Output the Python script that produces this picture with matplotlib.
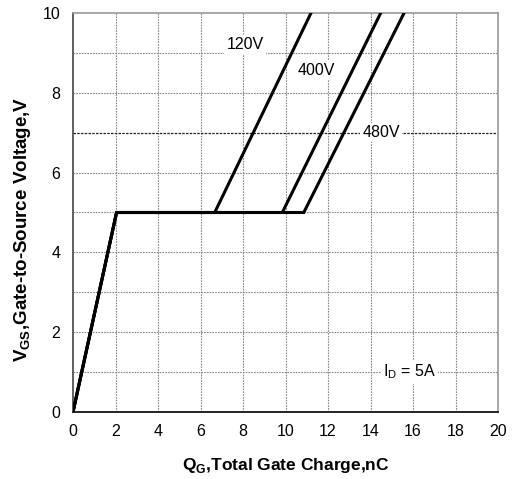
import numpy as np
import matplotlib.pyplot as plt

plt.rcParams['font.family'] = ['Liberation Sans', 'DejaVu Sans']

# gate charge curves (nC, V)
qg_120 = [0.0, 2.05, 6.67, 11.2]
vgs_120 = [0.0, 5.0, 5.0, 10.0]
qg_400 = [0.0, 2.05, 9.85, 14.48]
vgs_400 = [0.0, 5.0, 5.0, 10.0]
qg_480 = [0.0, 2.05, 10.86, 15.58]
vgs_480 = [0.0, 5.0, 5.0, 10.0]

curve_labels = ["120V", "400V", "480V"]
label_x = [8.1, 11.45, 14.5]
label_y = [9.2, 8.57, 7.0]

fig = plt.figure(figsize=(5.14, 4.79), dpi=100)
ax = fig.add_axes([73 / 514, 1 - 412 / 479, 425 / 514, 399 / 479])

# grid
for xv in np.arange(2, 20, 2):
    ax.axvline(xv, color="#888888", lw=0.8, ls=(0, (1.5, 1)), zorder=1)
for yv in np.arange(1, 10, 1):
    if yv == 7:
        ax.axhline(yv, color="#222222", lw=0.9, ls=(0, (2, 1)), zorder=1)
    else:
        ax.axhline(yv, color="#888888", lw=0.8, ls=(0, (1.5, 1)), zorder=1)

for q, v in [(qg_120, vgs_120), (qg_400, vgs_400), (qg_480, vgs_480)]:
    ax.plot(q, v, color="black", lw=2.2, solid_joinstyle="miter", zorder=3)

for lab, lx, ly in zip(curve_labels, label_x, label_y):
    ax.text(lx, ly, lab, fontsize=11.5, ha="center", va="center", zorder=4,
            bbox=dict(facecolor="white", edgecolor="none", pad=1.5))

ax.text(15.85, 1.0, r"I$_\mathregular{D}$ = 5A", fontsize=11.5, ha="center", va="center",
        zorder=4, bbox=dict(facecolor="white", edgecolor="none", pad=1.5))

ax.set_xlim(0, 20)
ax.set_ylim(0, 10)
ax.set_xticks(np.arange(0, 21, 2))
ax.set_yticks(np.arange(0, 11, 2))
ax.tick_params(length=0, labelsize=11.5)
ax.tick_params(axis="x", pad=9)
ax.tick_params(axis="y", pad=9)

ax.spines["left"].set_color("#444444")
ax.spines["bottom"].set_color("black")
ax.spines["top"].set_color("#999999")
ax.spines["right"].set_color("#999999")
for s in ax.spines.values():
    s.set_linewidth(1.2)

ax.set_xlabel(r"Q$_\mathregular{G}$,Total Gate Charge,nC", fontsize=12.5, fontweight="bold", labelpad=12)
ax.set_ylabel(r"V$_\mathregular{GS}$,Gate-to-Source Voltage,V", fontsize=13.5, fontweight="bold")
ax.yaxis.set_label_coords(-0.094, 0.459)

fig.savefig("out.png", dpi=100)
